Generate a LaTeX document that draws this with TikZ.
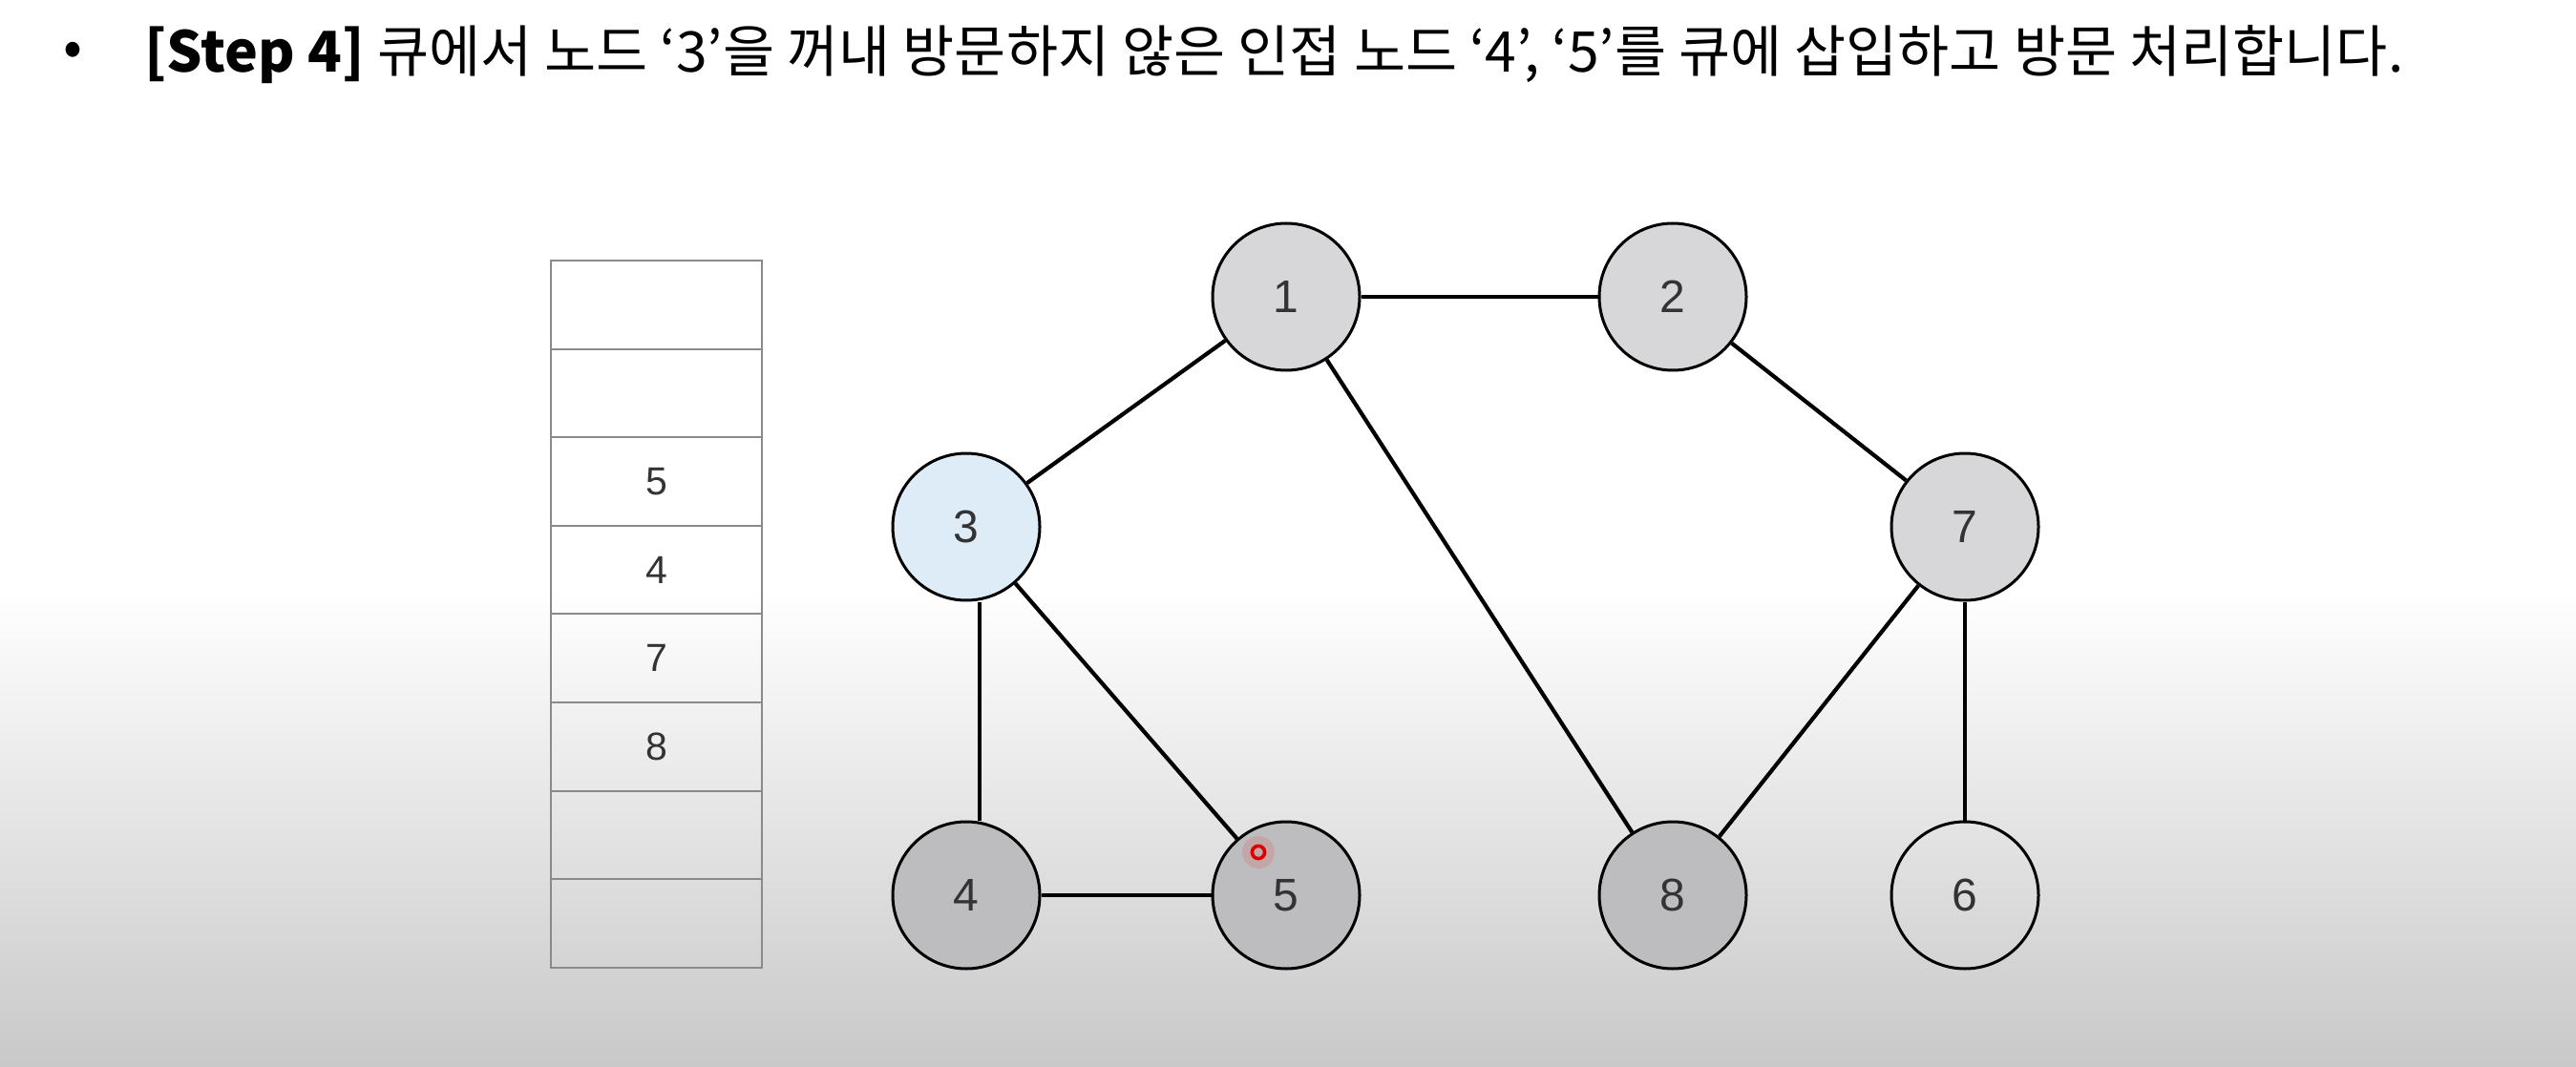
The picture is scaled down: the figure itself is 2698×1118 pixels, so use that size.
\documentclass[tikz,border=0pt]{standalone}
\usepackage{fontspec}
\setmainfont{Liberation Sans}
\newfontfamily\kr{Noto Sans CJK KR}
\definecolor{nlight}{HTML}{D7D7D9}
\definecolor{nblue}{HTML}{DDECF6}
\definecolor{ndark}{HTML}{BDBDBF}
\definecolor{bgbot}{HTML}{C8C8C8}
\definecolor{qline}{HTML}{8A8A8A}
\definecolor{numcol}{HTML}{333333}
\tikzset{
  gnode/.style={circle, draw=black, line width=1.5pt, minimum size=77pt, inner sep=0pt,
    font=\fontsize{24}{28}\selectfont, text=numcol},
  edge/.style={line width=2.1pt, black},
  qcell/.style={draw=qline, line width=1pt, minimum width=110.5pt, minimum height=46.3pt, inner sep=0pt,
    font=\fontsize{20.5}{24}\selectfont, text=numcol, anchor=north west},
}
\begin{document}
\begin{tikzpicture}[x=0.5pt,y=-0.5pt]
\useasboundingbox (0,0) rectangle (2698,1118);
\fill[white] (0,0) rectangle (2698,620);
\shade[top color=white, bottom color=bgbot] (0,619) rectangle (2698,1118);
% title
\node[anchor=west, inner sep=0pt, font=\kr\fontsize{29.4}{33}\selectfont] (bullet) at (66,57) {•};
\node[anchor=west, inner sep=0pt, font=\kr\fontsize{29.4}{33}\selectfont] (title) at (151,57)
  {{\bfseries [Step 4]} 큐에서 노드 ‘3’을 꺼내 방문하지 않은 인접 노드 ‘4’, ‘5’를 큐에 삽입하고 방문 처리합니다.};
% queue
\foreach \i/\t in {0/,1/,2/5,3/4,4/7,5/8,6/,7/} {
  \node[qcell] (q\i) at (576,{272+92.6*\i}) {\t};
}
% nodes
\node[gnode, fill=nlight] (n1) at (1347,311) {1};
\node[gnode, fill=nlight] (n2) at (1752,311) {2};
\node[gnode, fill=nblue] (n3) at (1012,552) {3};
\node[gnode, fill=nlight] (n7) at (2058,552) {7};
\node[gnode, fill=ndark] (n4) at (1012,938) {4};
\node[gnode, fill=ndark] (n5) at (1347,938) {5};
\node[gnode, fill=ndark] (n8) at (1752,938) {8};
\node[gnode] (n6) at (2058,938) {6};
% edges
\draw[edge] (n1) -- (n2);
\draw[edge] (n1) -- (n3);
\draw[edge] (n1) -- (n8);
\draw[edge] (n2) -- (n7);
\path (n3.south) ++(7pt,0) coordinate (c3s) (n4.north) ++(7pt,0) coordinate (c4n);
\draw[edge] (c3s) -- (c4n);
\draw[edge] (n3) -- (n5);
\draw[edge] (n4) -- (n5);
\draw[edge] (n7) -- (n8);
\draw[edge] (n7) -- (n6);
% pointer
\fill[red, opacity=0.12] (1318,893) circle (8.5pt);
\draw[red!85!black, line width=1.8pt] (1318,893) circle (3.3pt);
\end{tikzpicture}
\end{document}
